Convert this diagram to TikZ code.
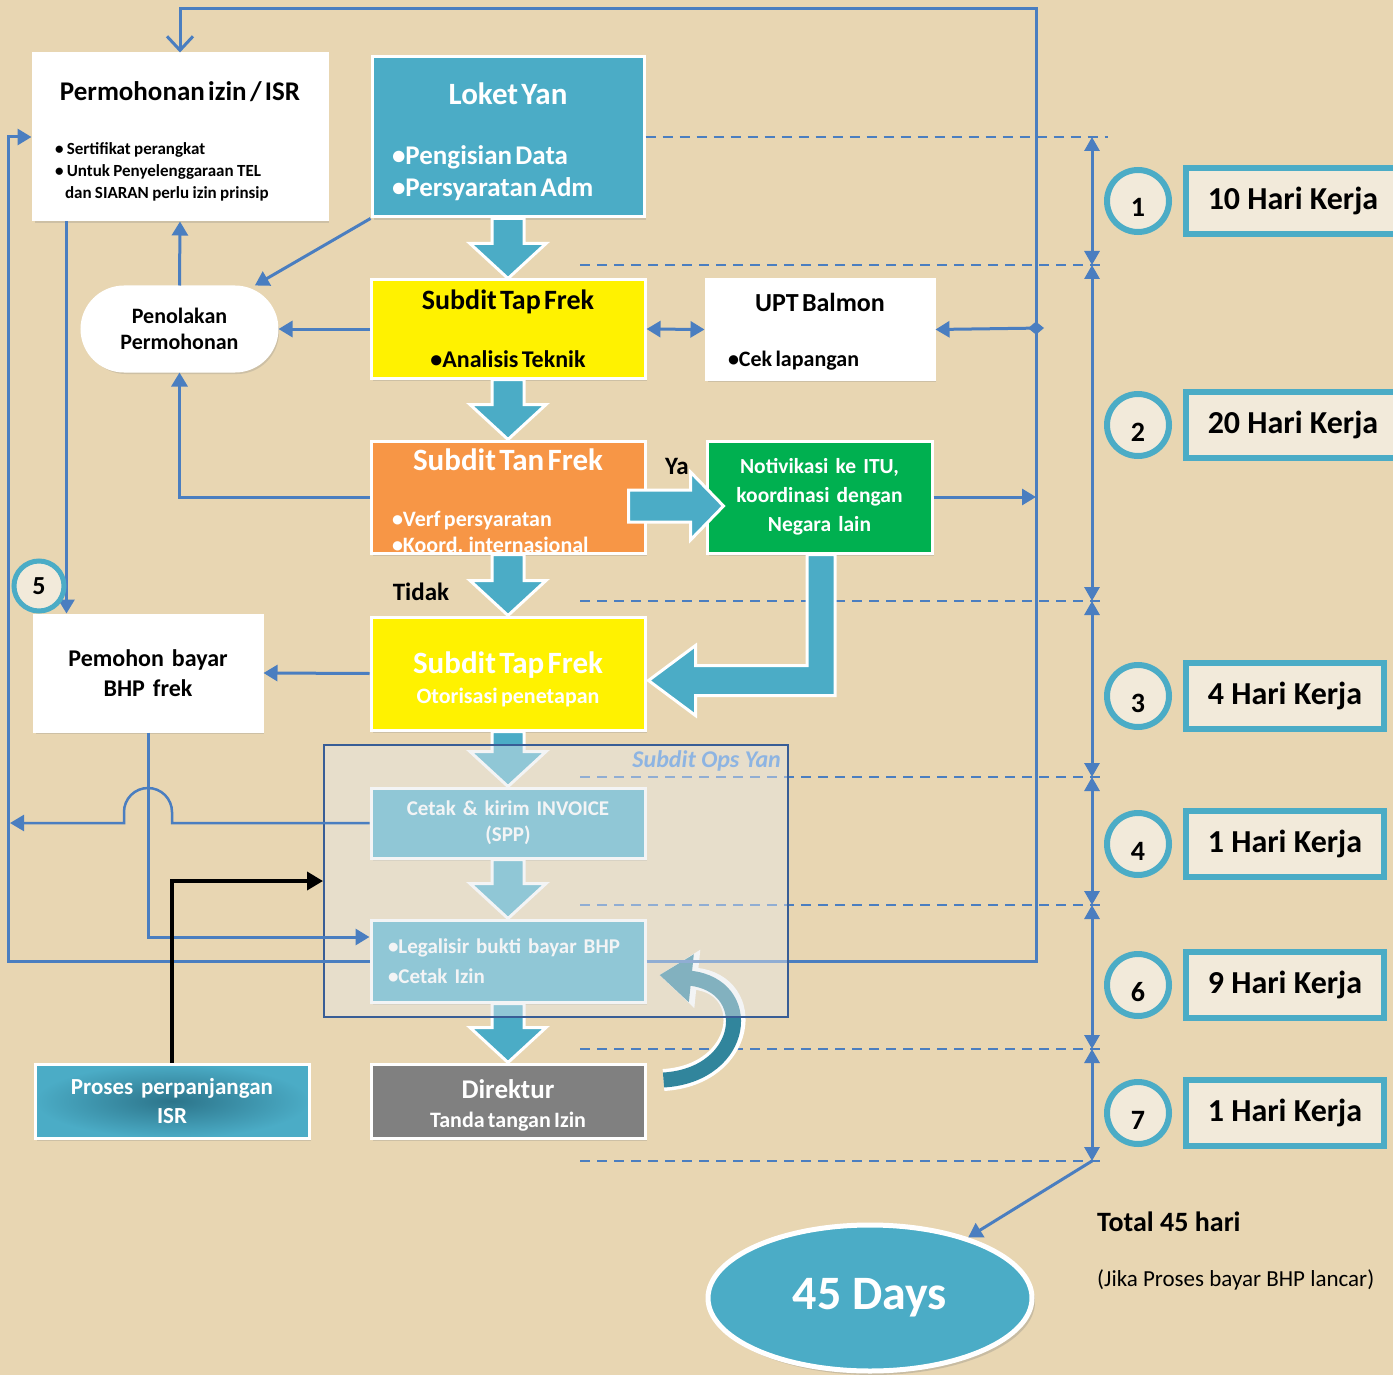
\documentclass[tikz,border=0pt]{standalone}
\usepackage{fontspec}
\setmainfont{Carlito}
\usetikzlibrary{calc, arrows.meta, shadows, shapes.geometric}

\definecolor{paper}{RGB}{232,214,178}
\definecolor{yan}{RGB}{75,172,198}
\definecolor{yandark}{RGB}{49,133,156}
\definecolor{yanmid}{RGB}{44,116,138}
\definecolor{linkblue}{RGB}{74,126,192}
\definecolor{tanorange}{RGB}{247,150,70}
\definecolor{itugreen}{RGB}{0,176,80}
\definecolor{dirgrey}{RGB}{128,128,128}
\definecolor{opsline}{RGB}{56,93,150}
\definecolor{opstext}{RGB}{141,180,226}
\definecolor{opsfog}{RGB}{230,232,235}
\definecolor{dayfill}{RGB}{242,234,218}

\tikzset{
  box/.style={rectangle, draw=white, line width=3pt, inner sep=0pt, font=\bfseries,
    drop shadow={shadow xshift=2pt, shadow yshift=-3pt, opacity=0.25}},
  link/.style={draw=linkblue, line width=3pt, -{Triangle[length=14pt,width=16pt]}},
  timeline/.style={draw=linkblue, line width=2pt, dash pattern=on 10pt off 7pt},
  span/.style={draw=linkblue, line width=3pt,
    {Triangle[length=14pt,width=15pt]}-{Triangle[length=14pt,width=15pt]}},
  blockarrow/.style={draw=white, line width=3pt, fill=yan},
  curvearrow/.style={draw=yandark, line width=15pt, -{Triangle[width=46pt,length=32pt]},
    preaction={draw=white, line width=22pt, -{Triangle[width=56pt,length=38pt]}}},
  stepring/.style={circle, draw=yan, line width=6pt, fill=dayfill, minimum size=62pt,
    inner sep=0pt, font=\fontsize{28}{32}\selectfont\bfseries},
  daybox/.style={rectangle, draw=yan, line width=6pt, fill=dayfill, minimum height=66pt,
    inner sep=0pt, font=\fontsize{32}{36}\selectfont\bfseries},
}

\newcommand{\blockdown}[2]{%
  \draw[blockarrow] ($(#1.south)+(-16,0)$) -- ($(#2.north)+(-16,-35)$)
    -- ($(#2.north)+(-38,-35)$) -- (#2.north) -- ($(#2.north)+(38,-35)$)
    -- ($(#2.north)+(16,-35)$) -- ($(#1.south)+(16,0)$) -- cycle;}

\begin{document}
\begin{tikzpicture}[x=1pt, y=-1pt]
  \path[use as bounding box, fill=paper] (0,0) rectangle (1393,1375);

  % time marks
  \foreach \y [count=\i from 0] in {137,265,601,777,905,1049,1161}
    \coordinate (t\i) at (1092,\y);
  \foreach \y in {265,601,777,905,1049,1161}
    \draw[timeline] (580,\y) -- (1100,\y);

  \node[box, fill=white, minimum width=294pt, minimum height=166pt, text width=250pt, align=left] (perm) at (180,137)
    {\makebox[\linewidth]{\fontsize{27}{30}\selectfont\rule{0pt}{28pt}Permohonan izin / ISR}\\[32pt]
     \fontsize{17}{22}\selectfont\textbullet\ Sertifikat perangkat\\
     \textbullet\ Untuk Penyelenggaraan TEL\\
     \hspace*{10pt}dan SIARAN perlu izin prinsip\par};
  \node[box, fill=yan, text=white, minimum width=272pt, minimum height=160pt, text width=232pt, align=left] (loket) at (508,137)
    {\makebox[\linewidth]{\fontsize{31}{34}\selectfont\rule{0pt}{31pt}Loket Yan}\\[28pt]
     \fontsize{27}{32}\selectfont\textbullet Pengisian Data\\
     \textbullet Persyaratan Adm\par};
  \draw[timeline] (loket.east) -- (1108,137);
  \node[box, fill=yellow, minimum width=274pt, minimum height=98pt, text width=250pt, align=center] (tap1) at (508,329)
    {\fontsize{28}{30}\selectfont Subdit Tap Frek\\[32pt]
     \fontsize{24}{26}\selectfont\textbullet Analisis Teknik\par};
  \node[box, fill=white, minimum width=228pt, minimum height=99pt, text width=184pt, align=left] (upt) at (820,329.5)
    {\makebox[\linewidth]{\fontsize{26}{28}\selectfont\rule{0pt}{22pt}UPT Balmon}\\[29pt]
     \fontsize{22}{26}\selectfont\textbullet Cek lapangan\par};
  \node[box, fill=white, rounded corners=42pt, minimum width=195pt, minimum height=84pt, text width=180pt, align=center,
        font=\fontsize{22}{26}\selectfont\bfseries] (tolak) at (179.5,329) {Penolakan\\Permohonan};
  \node[box, fill=tanorange, text=white, minimum width=274pt, minimum height=112pt, text width=232pt, align=left] (tan) at (508,497)
    {\makebox[\linewidth]{\fontsize{31}{34}\selectfont\rule{0pt}{29pt}Subdit Tan Frek}\\[30pt]
     \fontsize{22}{26}\selectfont\textbullet Verf persyaratan\\
     \textbullet Koord. internasional\par};
  \node[box, fill=itugreen, text=white, minimum width=225pt, minimum height=112pt, text width=215pt, align=center,
        font=\fontsize{21.5}{29}\selectfont\bfseries] (noti) at (819.5,497)
    {Notivikasi ke ITU,\\koordinasi dengan\\Negara lain};
  \node[box, fill=yellow, text=white, minimum width=274pt, minimum height=113pt, text width=250pt, align=center] (tap2) at (508,673.5)
    {\fontsize{31}{34}\selectfont\rule{0pt}{33pt}Subdit Tap Frek\\
     \fontsize{22}{30}\selectfont Otorisasi penetapan\par};
  \node[box, fill=white, minimum width=228pt, minimum height=116pt, text width=210pt, align=center,
        font=\fontsize{24}{30}\selectfont\bfseries] (bayar) at (148,673) {Pemohon bayar\\BHP frek};
  \node[box, fill=yan, text=white, minimum width=274pt, minimum height=70pt, text width=260pt, align=center,
        font=\fontsize{21}{26}\selectfont\bfseries] (cetak) at (508,823) {Cetak \& kirim INVOICE\\(SPP)};
  \node[box, fill=yan, text=white, minimum width=274pt, minimum height=82pt, text width=240pt, align=left,
        font=\fontsize{21}{30}\selectfont\bfseries] (legal) at (508,961)
    {\textbullet Legalisir bukti bayar BHP\\\textbullet Cetak Izin};
  \node[box, fill=dirgrey, text=white, minimum width=274pt, minimum height=74pt, text width=250pt, align=center] (dir) at (508,1101)
    {\fontsize{27}{29}\selectfont\rule{0pt}{28pt}Direktur\\
     \fontsize{22}{29}\selectfont Tanda tangan Izin\par};
  \node[box, inner color=yanmid, outer color=yan, text=white, minimum width=274pt, minimum height=74pt, text width=260pt, align=center,
        font=\fontsize{23}{29}\selectfont\bfseries] (isr) at (172,1101) {Proses perpanjangan\\ISR};

  \node[font=\fontsize{25}{28}\selectfont\bfseries, inner sep=0pt] (ya) at (677,466) {Ya};
  \node[font=\fontsize{25}{28}\selectfont\bfseries, inner sep=0pt] (tidak) at (421,592) {Tidak};

  \blockdown{loket}{tap1}
  \blockdown{tap1}{tan}
  \blockdown{tan}{tap2}
  \blockdown{tap2}{cetak}
  \blockdown{cetak}{legal}
  \blockdown{legal}{dir}

  \coordinate (yafrom) at ($(tan.east)+(-18,9)$);
  \coordinate (yato) at ($(noti.west)+(18,9)$);
  \draw[blockarrow] ($(yafrom)+(0,-16)$) -- ($(yato)+(-33,-16)$) -- ($(yato)+(-33,-34)$) -- (yato)
    -- ($(yato)+(-33,34)$) -- ($(yato)+(-33,16)$) -- ($(yafrom)+(0,16)$) -- cycle;

  \coordinate (itufrom) at ($(noti.south)+(1.5,0)$);
  \coordinate (itutip) at ($(tap2.east)+(2,7)$);
  \draw[blockarrow] let \p1=(itufrom), \p2=(itutip) in
    (\x1-14pt,\y1) -- (\x1-14pt,\y2+15pt) -- (\x2+47pt,\y2+15pt) -- (\x2+47pt,\y2+35pt) -- (\x2,\y2)
    -- (\x2+47pt,\y2-35pt) -- (\x2+47pt,\y2-15pt) -- (\x1+14pt,\y2-15pt) -- (\x1+14pt,\y1) -- cycle;

  \coordinate (curvfrom) at ($(dir.east)+(17,-21)$);
  \coordinate (curvto) at ($(legal.east)+(13,14)$);
  \draw[curvearrow] (curvfrom) .. controls +(83,-5) and +(97,10) .. (curvto);

  \coordinate (jtop) at (1036,9);
  \draw[link, -{Straight Barb[length=14pt,width=26pt]}] (legal.east) -| (jtop) -| (perm.north);

  \node[draw=opsline, line width=2pt, fill=opsfog, fill opacity=0.45, draw opacity=1,
        minimum width=464pt, minimum height=272pt] (ops) at (556,881) {};
  \node[anchor=north east, inner sep=0pt, text=opstext, font=\fontsize{24}{26}\selectfont\bfseries\itshape] (opsname)
    at ($(ops.north east)+(-8,6)$) {Subdit Ops Yan};

  \draw[link] (loket.south west) -- (tolak.30);
  \draw[link] (tap1.west) -- (tolak.east);
  \draw[link] (tolak.north) -- (perm.south);
  \draw[link] (tan.west) -| (tolak.south);
  \draw[link, {Triangle[length=14pt,width=16pt]}-{Triangle[length=14pt,width=16pt]}] (tap1.east) -- (upt.west);
  \coordinate (jbal) at (1036,328);
  \draw[link, {Diamond[length=16pt,width=13pt]}-{Triangle[length=14pt,width=16pt]}] ($(jbal)+(8,0)$) -- (upt.east);
  \draw[link] (noti.east) -- (noti.east -| jbal);
  \draw[link] ($(perm.south west)+(35,0)$) -- ($(bayar.north west)+(34,0)$);
  \draw[link] (tap2.west) -- (bayar.east);
  \draw[link] (bayar.south) |- ($(legal.west)+(0,-24)$);
  \coordinate (cout) at (10,823);
  \draw[link, line width=2.5pt] (cetak.west) -- (172,823) -- (172,812) arc[start angle=0, end angle=-180, radius=24]
    -- (124,823) -- (cout);
  \coordinate (jleft) at (8,500);
  \draw[link] (legal.west) -| (jleft) |- (perm.west);
  \draw[line width=3.5pt, -{Triangle[length=16pt,width=18pt]}] (isr.north) |- (ops.west);

  % durations
  \foreach \a/\b in {0/1,1/2,2/3,3/4,4/5,5/6}
    \draw[span] (t\a) -- (t\b);
  \foreach \n/\y/\d/\w in {1/201/10/214,2/425/20/214,3/696/4/198,4/844/1/198,6/985/9/198,7/1113/1/198}{
    \node[stepring] (c\n) at (1138,\y) {\raisebox{-16pt}[0pt][0pt]{\n}};
    \node[daybox, anchor=west, minimum width=\w pt] (d\n) at (1183,\y) {\d\ Hari Kerja};
  }
  \node[stepring, minimum size=50pt, line width=5pt, font=\fontsize{26}{30}\selectfont\bfseries] (c5) at (39,586) {5};

  \node[ellipse, fill=yan, draw=white, line width=5pt, minimum width=324pt, minimum height=146pt, text=white,
        font=\fontsize{48}{52}\selectfont\bfseries, drop shadow={shadow xshift=3pt, shadow yshift=-4pt, opacity=0.3}] (days)
    at (870,1298) {45 Days};
  \draw[link] (t6) -- (days);
  \node[anchor=west, inner sep=0pt, font=\fontsize{28}{30}\selectfont\bfseries] (total) at (1097,1222) {Total 45 hari};
  \node[anchor=west, inner sep=0pt, font=\fontsize{23}{26}\selectfont] (syarat) at (1097,1280) {(Jika Proses bayar BHP lancar)};
\end{tikzpicture}
\end{document}
